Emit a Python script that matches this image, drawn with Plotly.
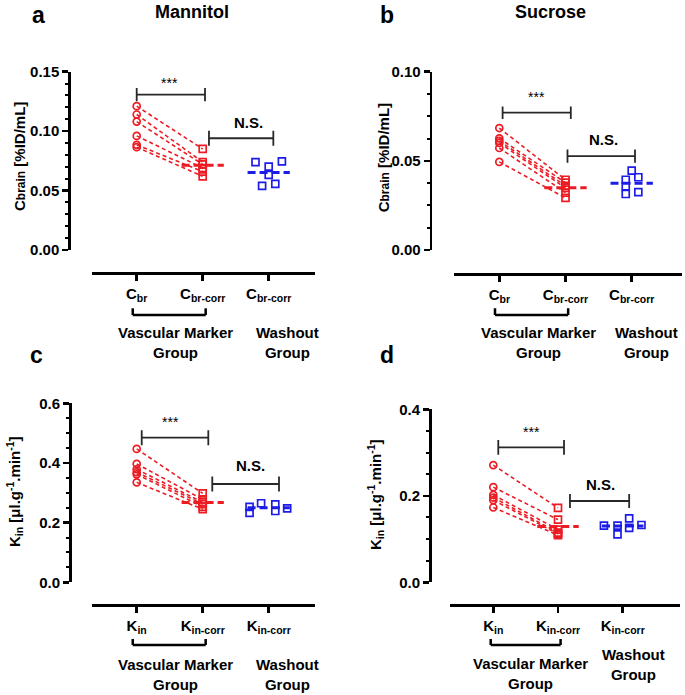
import numpy as np
import plotly.graph_objects as go

W, H = 685, 695
FONT = "Liberation Sans, Arial, sans-serif"
RED = "rgb(236,28,36)"
BLUE = "rgb(28,28,232)"

# ---------------- data ----------------
# Panel a: Mannitol, brain concentration [%ID/mL]
A_CBR = [0.121, 0.114, 0.108, 0.096, 0.0885, 0.0865]
A_CBR_CORR = [0.085, 0.074, 0.072, 0.069, 0.066, 0.062]
A_WASH = [0.0739, 0.0702, 0.0745, 0.0632, 0.0539, 0.0556]
A_JIT = [-0.2, 0.0, 0.2, 0.0, -0.1, 0.1]

# Panel b: Sucrose, brain concentration [%ID/mL]
B_CBR = [0.0684, 0.0626, 0.0612, 0.0600, 0.0572, 0.0494]
B_CBR_CORR = [0.0394, 0.0378, 0.0360, 0.0348, 0.0322, 0.0292]
B_WASH = [0.0445, 0.0408, 0.0394, 0.0357, 0.0325, 0.0314]
B_JIT = [0.0, 0.1, -0.09, -0.09, 0.1, -0.09]

# Panel c: Mannitol, Kin [ul/g/min]
C_KIN = [0.447, 0.397, 0.379, 0.369, 0.362, 0.335]
C_KIN_CORR = [0.298, 0.278, 0.268, 0.262, 0.253, 0.245]
C_WASH = [0.253, 0.233, 0.265, 0.261, 0.239, 0.248]
C_JIT = [-0.29, -0.29, -0.115, 0.1, 0.1, 0.28]

# Panel d: Sucrose, Kin [ul/g/min]
D_KIN = [0.271, 0.220, 0.202, 0.196, 0.190, 0.173]
D_KIN_CORR = [0.172, 0.145, 0.122, 0.115, 0.112, 0.109]
D_WASH = [0.131, 0.131, 0.111, 0.148, 0.126, 0.1325]
D_JIT = [-0.29, -0.08, -0.08, 0.1, 0.1, 0.29]

CBR_LABELS = ["C<sub>br</sub>", "C<sub>br-corr</sub>", "C<sub>br-corr</sub>"]
KIN_LABELS = ["K<sub>in</sub>", "K<sub>in-corr</sub>", "K<sub>in-corr</sub>"]
CBR_YTITLE = 'C<span style="font-size:12px">brain</span> [%ID/mL]'
KIN_YTITLE = "K<sub>in</sub> [μl.g<sup>-1</sup>.min<sup>-1</sup>]"


def fx(p):
    return p / W


def fy(p):
    return 1 - p / H


panels = [
    dict(letter="a", title="Mannitol", before=A_CBR, after=A_CBR_CORR, wash=A_WASH, jit=A_JIT,
         labels=CBR_LABELS, ytitle=CBR_YTITLE,
         yx=69.3, ytop=71.7, ybot=250, xl=92, xr=315, xly=273.3, c0=136.7, dc=66,
         ymax=0.15, dtick=0.05, minor=0.01, fmt=".2f",
         sig=(0.0, 1.035, 0.1307, 0.0055, 0.5, 0.1407),
         ns=(1.095, 2.07, 0.094, 0.0063, 1.69, 0.1071),
         grp=(-0.06, 1.045, 315, 308.3), vm=(0.59, 342.8), wo=(2.28, 342.8),
         letter_pos=(38, 15), title_pos=(191.7, 12), ytitle_pos=(20, 157)),
    dict(letter="b", title="Sucrose", before=B_CBR, after=B_CBR_CORR, wash=B_WASH, jit=B_JIT,
         labels=CBR_LABELS, ytitle=CBR_YTITLE,
         yx=430.7, ytop=71.7, ybot=250, xl=454.3, xr=681.7, xly=274, c0=499.3, dc=66.2,
         ymax=0.10, dtick=0.05, minor=0.0125, fmt=".2f",
         sig=(0.05, 1.08, 0.077, 0.0035, 0.565, 0.0856),
         ns=(1.03, 2.05, 0.0527, 0.0037, 1.57, 0.0617),
         grp=(-0.065, 1.04, 315, 308.3), vm=(0.585, 342.8), wo=(2.22, 342.8),
         letter_pos=(386.7, 15), title_pos=(550, 12), ytitle_pos=(383.3, 158)),
    dict(letter="c", title=None, before=C_KIN, after=C_KIN_CORR, wash=C_WASH, jit=C_JIT,
         labels=KIN_LABELS, ytitle=KIN_YTITLE,
         yx=70, ytop=403.3, ybot=582.3, xl=91.7, xr=315, xly=605, c0=136.7, dc=66,
         ymax=0.6, dtick=0.2, minor=0.05, fmt=".1f",
         sig=(0.076, 1.085, 0.4847, 0.025, 0.515, 0.538),
         ns=(1.145, 2.156, 0.3295, 0.025, 1.727, 0.393),
         grp=(-0.06, 1.045, 645, 639), vm=(0.59, 674), wo=(2.28, 674),
         letter_pos=(36, 355), title_pos=None, ytitle_pos=(14, 492)),
    dict(letter="d", title=None, before=D_KIN, after=D_KIN_CORR, wash=D_WASH, jit=D_JIT,
         labels=KIN_LABELS, ytitle=KIN_YTITLE,
         yx=430, ytop=409.3, ybot=582.3, xl=450, xr=680, xly=605, c0=493.3, dc=64.7,
         ymax=0.4, dtick=0.2, minor=0.05, fmt=".1f",
         sig=(0.077, 1.093, 0.312, 0.017, 0.594, 0.348),
         ns=(1.185, 2.10, 0.188, 0.016, 1.65, 0.227),
         grp=(-0.04, 1.04, 645, 639), vm=(0.58, 673.3), wo=(2.17, 664),
         letter_pos=(386.7, 355), title_pos=None, ytitle_pos=(375, 495)),
]

fig = go.Figure()
layout = dict(template="none", width=W, height=H,
              margin=dict(l=0, r=0, t=0, b=0, pad=0, autoexpand=False),
              plot_bgcolor="white", paper_bgcolor="white", showlegend=False,
              font=dict(family=FONT, color="black"))
shapes = []
annotations = []

for i, p in enumerate(panels, start=1):
    xa = "x" if i == 1 else f"x{i}"
    ya = "y" if i == 1 else f"y{i}"
    xkey = "xaxis" if i == 1 else f"xaxis{i}"
    ykey = "yaxis" if i == 1 else f"yaxis{i}"

    before, after, wash = p["before"], p["after"], p["wash"]
    n = len(before)

    # paired dashed lines
    lx, ly = [], []
    for b, a in zip(before, after):
        lx += [0, 1, None]
        ly += [b, a, None]
    fig.add_trace(go.Scatter(x=lx, y=ly, mode="lines", xaxis=xa, yaxis=ya,
                             line=dict(color=RED, width=1.6, dash="4px,3px"), hoverinfo="skip"))
    # mean lines
    mr = float(np.mean(after))
    mb = float(np.mean(wash))
    fig.add_trace(go.Scatter(x=[0.68, 1.32], y=[mr, mr], mode="lines", xaxis=xa, yaxis=ya,
                             line=dict(color=RED, width=3, dash="8px,4px")))
    fig.add_trace(go.Scatter(x=[1.68, 2.32], y=[mb, mb], mode="lines", xaxis=xa, yaxis=ya,
                             line=dict(color=BLUE, width=3, dash="8px,4px")))
    # markers
    fig.add_trace(go.Scatter(x=[0] * n, y=before, mode="markers", xaxis=xa, yaxis=ya,
                             marker=dict(symbol="circle-open", size=7, color=RED,
                                         line=dict(width=1.7, color=RED))))
    fig.add_trace(go.Scatter(x=[1] * n, y=after, mode="markers", xaxis=xa, yaxis=ya,
                             marker=dict(symbol="square-open", size=7, color=RED,
                                         line=dict(width=1.7, color=RED))))
    fig.add_trace(go.Scatter(x=[2 + j for j in p["jit"]], y=wash, mode="markers", xaxis=xa, yaxis=ya,
                             marker=dict(symbol="square-open", size=7, color=BLUE,
                                         line=dict(width=1.7, color=BLUE))))

    # axes
    xr0 = (p["xl"] - p["c0"]) / p["dc"]
    xr1 = (p["xr"] - p["c0"]) / p["dc"]
    layout[xkey] = dict(domain=[fx(p["xl"]), fx(p["xr"])], range=[xr0, xr1],
                        anchor="free", position=fy(p["xly"]), automargin=False,
                        showgrid=False, zeroline=False, showline=True, linewidth=2.5, linecolor="black",
                        ticks="outside", ticklen=6, tickwidth=2.5, tickcolor="black",
                        tickmode="array", tickvals=[0, 1, 2], ticktext=p["labels"],
                        tickfont=dict(family=FONT, size=15, weight="bold", color="black"))
    layout[ykey] = dict(domain=[fy(p["ybot"]), fy(p["ytop"])], range=[0, p["ymax"]],
                        anchor="free", position=fx(p["yx"]), automargin=False,
                        showgrid=False, zeroline=False, showline=True, linewidth=2.5, linecolor="black",
                        ticks="outside", ticklen=6, tickwidth=2.5, tickcolor="black",
                        tick0=0, dtick=p["dtick"], tickformat=p["fmt"],
                        minor=dict(dtick=p["minor"], ticks="outside", ticklen=3, tickwidth=2,
                                   tickcolor="black", showgrid=False),
                        tickfont=dict(family=FONT, size=15, weight="bold", color="black"))

    # significance brackets
    for (x0, x1, yb, hh, tx, ty), txt, tf in [
        (p["sig"], "***", dict(size=14, family=FONT, color="black")),
        (p["ns"], "N.S.", dict(size=15, family=FONT, color="black", weight="bold")),
    ]:
        ln = dict(color="rgb(40,40,40)", width=1.8)
        shapes.append(dict(type="line", xref=xa, yref=ya, x0=x0, x1=x1, y0=yb, y1=yb, line=ln))
        shapes.append(dict(type="line", xref=xa, yref=ya, x0=x0, x1=x0, y0=yb - hh, y1=yb + hh, line=ln))
        shapes.append(dict(type="line", xref=xa, yref=ya, x0=x1, x1=x1, y0=yb - hh, y1=yb + hh, line=ln))
        annotations.append(dict(xref=xa, yref=ya, x=tx, y=ty, text=txt, showarrow=False, font=tf,
                                xanchor="center", yanchor="middle"))

    # group bracket under the axis
    gx0, gx1, gyb, gyt = p["grp"]
    gl = dict(color="black", width=2.5)
    shapes.append(dict(type="line", xref=xa, yref="paper", x0=gx0, x1=gx1, y0=fy(gyb), y1=fy(gyb), line=gl))
    shapes.append(dict(type="line", xref=xa, yref="paper", x0=gx0, x1=gx0, y0=fy(gyb), y1=fy(gyt), line=gl))
    shapes.append(dict(type="line", xref=xa, yref="paper", x0=gx1, x1=gx1, y0=fy(gyb), y1=fy(gyt), line=gl))

    gfont = dict(family=FONT, size=15, weight="bold", color="black")
    annotations.append(dict(xref=xa, yref="paper", x=p["vm"][0], y=fy(p["vm"][1]),
                            text="Vascular Marker<br>Group", showarrow=False, font=gfont,
                            xanchor="center", yanchor="middle"))
    annotations.append(dict(xref=xa, yref="paper", x=p["wo"][0], y=fy(p["wo"][1]),
                            text="Washout<br>Group", showarrow=False, font=gfont,
                            xanchor="center", yanchor="middle"))

    # y-axis title
    annotations.append(dict(xref="paper", yref="paper", x=fx(p["ytitle_pos"][0]), y=fy(p["ytitle_pos"][1]),
                            text=p["ytitle"], textangle=-90, showarrow=False,
                            xanchor="center", yanchor="middle",
                            font=dict(family=FONT, size=15, weight="bold", color="black")))
    # panel letter and title
    annotations.append(dict(xref="paper", yref="paper", x=fx(p["letter_pos"][0]), y=fy(p["letter_pos"][1]),
                            text=p["letter"], showarrow=False, xanchor="center", yanchor="middle",
                            font=dict(family=FONT, size=23, weight="bold", color="black")))
    if p["title"]:
        annotations.append(dict(xref="paper", yref="paper", x=fx(p["title_pos"][0]), y=fy(p["title_pos"][1]),
                                text=p["title"], showarrow=False, xanchor="center", yanchor="middle",
                                font=dict(family=FONT, size=18, weight="bold", color="black")))

layout["shapes"] = shapes
layout["annotations"] = annotations
fig.update_layout(**layout)
fig.write_html("out.html",
               config={"displayModeBar": False, "staticPlot": True},
               post_script="document.body.style.margin='0';document.body.style.overflow='hidden';")
